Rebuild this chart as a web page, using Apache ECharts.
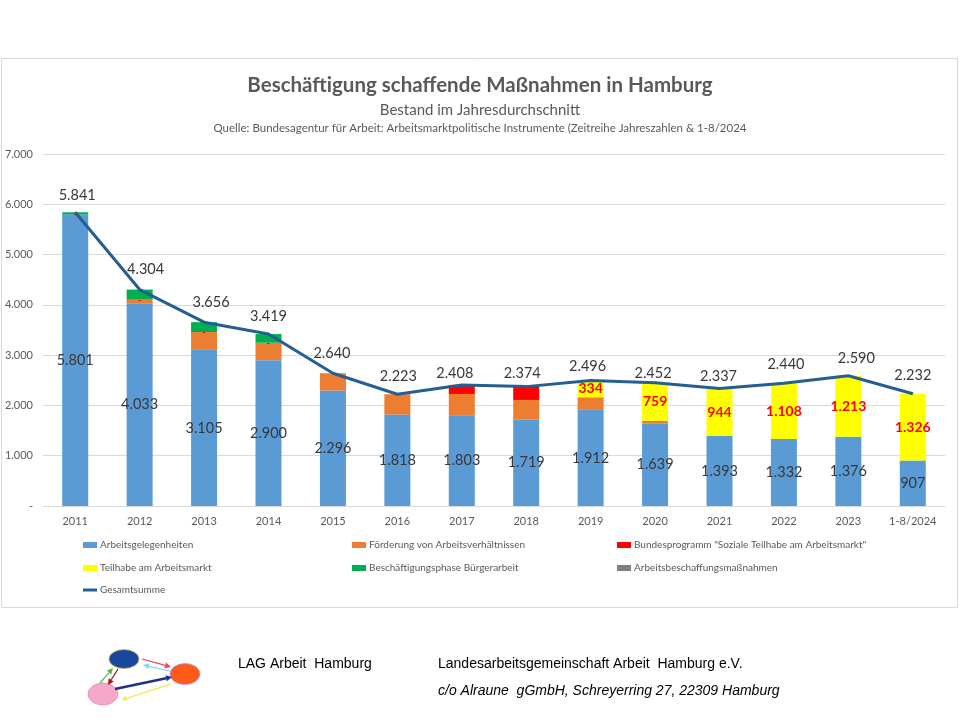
<!DOCTYPE html>
<html>
<head>
<meta charset="utf-8">
<script src="https://cdn.jsdelivr.net/npm/echarts@6/dist/echarts.min.js"></script>
<style>html,body{margin:0;padding:0;background:#fff}#c{width:960px;height:720px}</style>
</head>
<body>
<div id="c"></div>
<script>
const categories = ['2011','2012','2013','2014','2015','2016','2017','2018','2019','2020','2021','2022','2023','1-8/2024'];
const arbeitsgelegenheiten = [5801,4033,3105,2900,2296,1818,1803,1719,1912,1639,1393,1332,1376,907];
const foerderung = [0,70,354,347,344,405,425,390,250,54,0,0,0,0];
const bundesprogramm = [0,0,0,0,0,0,180,265,0,0,0,0,0,0];
const teilhabe = [0,0,0,0,0,0,0,0,334,759,944,1108,1213,1326];
const buergerarbeit = [40,201,197,172,0,0,0,0,0,0,0,0,0,0];
const abm = [0,0,0,0,0,0,0,0,0,0,0,0,0,0];
const gesamtsumme = [5841,4304,3656,3419,2640,2223,2408,2374,2496,2452,2337,2440,2590,2232];
const yTicks = [0,1000,2000,3000,4000,5000,6000,7000];

// style only: pixel nudges of the total labels (as placed in the original)
const totalLabelNudge = [[2,0],[6,-3],[7,-3],[0,-1],[-1,-3],[1,-1],[-7,5],[-4,4],[-3,3],[-2,8],[-1,5],[2,-2],[8,0],[0,-1]];

const FONT = 'Lato, "Noto Sans", sans-serif';
function fmt(v){ return v === 0 ? '-' : String(v).replace(/\B(?=(\d{3})+(?!\d))/g, '.'); }

const names = ['Arbeitsgelegenheiten','Förderung von Arbeitsverhältnissen','Bundesprogramm "Soziale Teilhabe am Arbeitsmarkt"','Teilhabe am Arbeitsmarkt','Beschäftigungsphase Bürgerarbeit','Arbeitsbeschaffungsmaßnahmen','Gesamtsumme'];
const colors = ['#5b9bd5','#ed7d31','#ff0000','#ffff00','#00b050','#7f7f7f','#255e91'];
const barData = [arbeitsgelegenheiten, foerderung, bundesprogramm, teilhabe, buergerarbeit, abm];

const legendPos = [[83,540],[352,540],[617,540],[83,563],[352,563],[617,563],[83,585]];

const chart = echarts.init(document.getElementById('c'));

const series = barData.map((d,i)=>{
  const s = {name:names[i], type:'bar', stack:'total', data:d, barWidth:26,
    itemStyle:{color:colors[i]}, label:{show:false}};
  if(i===0){
    s.label = {show:true, position:'inside', formatter:p=>fmt(p.value), color:'#383838', fontSize:14.5, fontFamily:FONT};
  }
  if(i===3){
    s.label = {show:true, position:'inside', color:'#ff0000', fontFamily:FONT,
      formatter:p=> p.value===0 ? '{z|-}' : '{b|'+fmt(p.value)+'}',
      rich:{ z:{fontSize:9,fontWeight:'bold',color:'#ff0000',fontFamily:FONT}, b:{fontSize:14,fontWeight:'bold',color:'#ff0000',fontFamily:FONT} }};
  }
  return s;
});
series.push({name:names[6], type:'line', symbol:'circle', symbolSize:1, showSymbol:true, z:5,
  data:gesamtsumme.map((v,i)=>({value:v, label:{offset:totalLabelNudge[i]}})),
  lineStyle:{color:colors[6], width:3}, itemStyle:{color:colors[6]},
  label:{show:true, position:'top', distance:9, formatter:p=>fmt(p.value), color:'#383838', fontSize:14.5, fontFamily:FONT}});

function arrow(x1,y1,x2,y2,color,w){
  const a = Math.atan2(y2-y1,x2-x1), L=6, W=3;
  const bx = x2 - L*Math.cos(a), by = y2 - L*Math.sin(a);
  return [
    {type:'line', shape:{x1:x1,y1:y1,x2:bx,y2:by}, style:{stroke:color, lineWidth:w}},
    {type:'polygon', shape:{points:[[x2,y2],[bx+W*Math.sin(a),by-W*Math.cos(a)],[bx-W*Math.sin(a),by+W*Math.cos(a)]]}, style:{fill:color}}
  ];
}

const FOOT = '14px "Liberation Sans", Arial, sans-serif';
const graphic = [
  {type:'rect', shape:{x:1.5,y:58.5,width:956,height:549}, style:{fill:'none', stroke:'#d9d9d9', lineWidth:1}, z:-1},
  {type:'circle', shape:{cx:0,cy:0,r:10}, x:124, y:659, scaleX:1.5, scaleY:0.95, style:{fill:'#17479e', stroke:'#d9b84a', lineWidth:0.6}},
  {type:'circle', shape:{cx:0,cy:0,r:10}, x:185, y:674, scaleX:1.5, scaleY:1.05, style:{fill:'#ff5a1a', stroke:'#a0a0ff', lineWidth:0.6}},
  {type:'circle', shape:{cx:0,cy:0,r:10}, x:103, y:694, scaleX:1.5, scaleY:1.1, style:{fill:'#f5a8c8', stroke:'#e08cb0', lineWidth:0.6}},
  ...arrow(142,659,171,667,'#f04060',1.2),
  ...arrow(170,671,143,665,'#80d8e8',1.2),
  ...arrow(115,689,172,677,'#1f2f8f',2.5),
  ...arrow(171,684,121,700,'#f4ec70',1.5),
  ...arrow(100,683,113,668,'#50c040',1.2),
  ...arrow(118,669,108,685,'#b01020',1.2),
  {type:'text', x:238, y:664, style:{text:'LAG Arbeit  Hamburg', fill:'#000', font:FOOT, textVerticalAlign:'middle'}},
  {type:'text', x:438, y:664, style:{text:'Landesarbeitsgemeinschaft Arbeit  Hamburg e.V.', fill:'#000', font:FOOT, textVerticalAlign:'middle'}},
  {type:'text', x:438, y:691, style:{text:'c/o Alraune  gGmbH, Schreyerring 27, 22309 Hamburg', fill:'#000', font:'italic '+FOOT, textVerticalAlign:'middle'}}
];

const legends = names.map((n,i)=>({
  data:[n], left:legendPos[i][0], top:legendPos[i][1], padding:0, itemGap:4,
  itemWidth:14, itemHeight: i===6 ? 3 : 6, icon:'rect', selectedMode:false,
  textStyle:{fontSize:10, color:'#595959', fontFamily:FONT, padding:[0,0,0,-2]}
}));

chart.setOption({
  backgroundColor:'#fff',
  animation:false,
  title:[
    {text:'Beschäftigung schaffende Maßnahmen in Hamburg', left:'center', top:75, padding:0,
     textStyle:{fontSize:20.5, fontWeight:'bold', color:'#595959', fontFamily:FONT}},
    {text:'Bestand im Jahresdurchschnitt', left:'center', top:103, padding:0,
     textStyle:{fontSize:15, fontWeight:'normal', color:'#595959', fontFamily:FONT}},
    {text:'Quelle: Bundesagentur für Arbeit: Arbeitsmarktpolitische Instrumente (Zeitreihe Jahreszahlen & 1-8/2024', left:'center', top:122, padding:0,
     textStyle:{fontSize:11.5, fontWeight:'normal', color:'#595959', fontFamily:FONT}}
  ],
  legend:legends,
  grid:{left:43, right:15, top:154, bottom:214, containLabel:false},
  xAxis:{type:'category', data:categories, axisTick:{show:false},
    axisLine:{lineStyle:{color:'#d9d9d9'}},
    axisLabel:{color:'#595959', fontSize:11, fontFamily:FONT, margin:10, interval:0}},
  yAxis:{type:'value', min:yTicks[0], max:yTicks[yTicks.length-1], interval:yTicks[1]-yTicks[0],
    axisLine:{show:false}, axisTick:{show:false},
    splitLine:{lineStyle:{color:'#d9d9d9'}},
    axisLabel:{color:'#595959', fontSize:11, fontFamily:FONT, margin:10, formatter:v=>fmt(v)}},
  series:series,
  graphic:graphic
});
</script>
</body>
</html>
